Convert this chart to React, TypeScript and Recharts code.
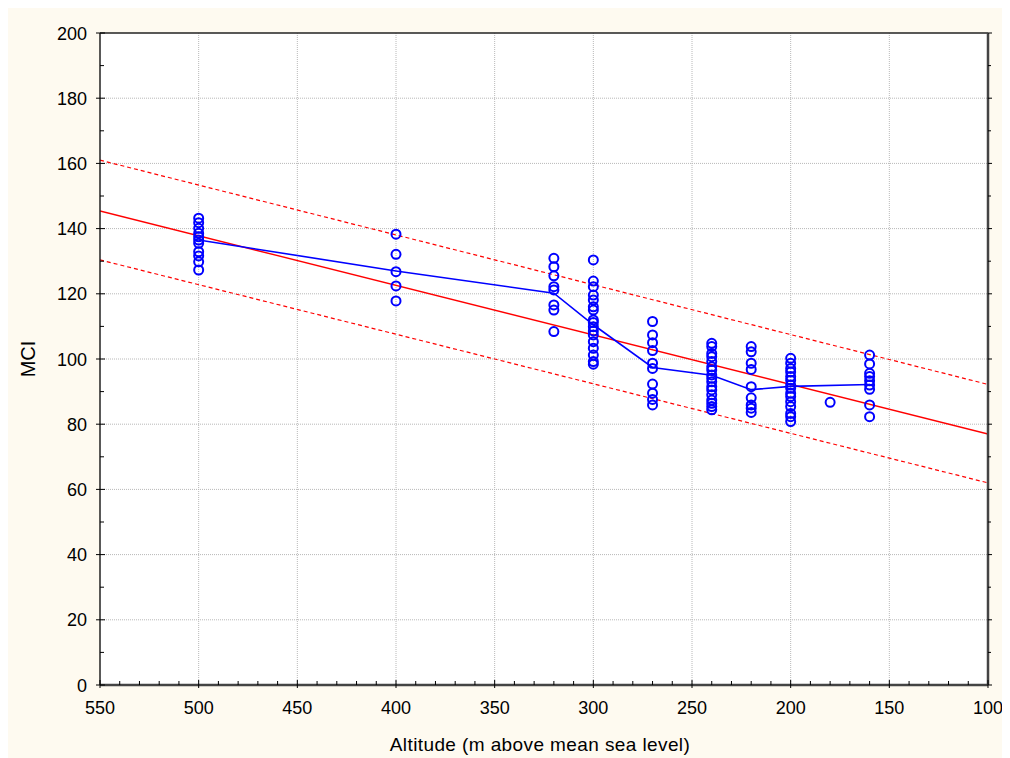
import { CartesianGrid, ComposedChart, Line, Scatter, XAxis, YAxis } from "recharts";

// axis ticks
const altitudeLabels = [550, 500, 450, 400, 350, 300, 250, 200, 150, 100];
const mciLabels = [0, 20, 40, 60, 80, 100, 120, 140, 160, 180, 200];
const altitudeTicks: number[] = [];
for (let v = 100; v <= 550; v += 10) altitudeTicks.push(v);
const mciTicks: number[] = [];
for (let v = 0; v <= 200; v += 10) mciTicks.push(v);

// sampling sites and their MCI scores
const altitudes = [500, 400, 320, 300, 270, 240, 220, 200, 180, 160];
const mciScores: number[][] = [
  [143.2, 141.8, 140.1, 138.6, 137.5, 136.5, 135.5, 132.9, 131.6, 129.8, 127.3],
  [138.3, 132.1, 126.8, 122.4, 117.8],
  [130.9, 128.3, 125.5, 122.2, 121.2, 116.6, 115, 108.4],
  [130.4, 123.9, 122.2, 119.6, 118.1, 116, 115, 112, 111.2, 109.9, 108.6, 107.4, 105.3, 103.3, 101.2, 99.2, 98.4],
  [111.5, 107.4, 105, 102.6, 98.7, 97.1, 92.3, 89.5, 87.6, 85.9],
  [104.8, 103.8, 101.7, 100.7, 99.2, 97.6, 96.6, 95.1, 94.1, 93, 91.5, 90.5, 89, 87.4, 86.4, 85.4, 84.4],
  [103.8, 102.2, 98.7, 96.8, 91.5, 88.1, 85.9, 84.9, 83.6],
  [100.2, 98.7, 97.1, 96, 94.6, 93.5, 92, 91, 89.5, 88.5, 86.9, 85.4, 83.3, 82.3, 80.8],
  [86.7],
  [101.2, 98.5, 95.6, 94.6, 93.3, 92, 90.7, 85.9, 82.3],
];

// mean per altitude
const meanAltitudes = [500, 400, 320, 300, 270, 240, 220, 200, 160];
const meanMci = [136.5, 127, 120.2, 110.5, 97.4, 95, 90.6, 91.6, 92.2];

// regression fit and 95% band
const fitAltitudes = [550, 100];
const fitMci = [145.4, 77];
const upperMci = [161, 92.2];
const lowerMci = [130.4, 62];

const points = altitudes.flatMap((alt, i) => mciScores[i].map((mci) => ({ alt, mci })));
const means = meanAltitudes.map((alt, i) => ({ alt, mci: meanMci[i] }));
const fit = fitAltitudes.map((alt, i) => ({ alt, mci: fitMci[i] }));
const upper = fitAltitudes.map((alt, i) => ({ alt, mci: upperMci[i] }));
const lower = fitAltitudes.map((alt, i) => ({ alt, mci: lowerMci[i] }));

const font = '"Liberation Sans", Arial, sans-serif';
const axisLine = { stroke: "#222", strokeWidth: 1.5 };
const heavyLine = { stroke: "#444", strokeWidth: 2.5 };

function BottomTick({ x, y, payload }: any) {
  const major = payload.value % 50 === 0;
  return (
    <g>
      <line x1={x} x2={x} y1={y - (major ? 5 : 4)} y2={y + (major ? 3 : 0)} stroke="#000" />
      {major && (
        <text x={x} y={y + 29} textAnchor="middle" fontSize={18} fill="#000" fontFamily={font}>
          {payload.value}
        </text>
      )}
    </g>
  );
}

function TopTick({ x, y, payload }: any) {
  const major = payload.value % 50 === 0;
  return <line x1={x} x2={x} y1={y + (major ? 5 : 4)} y2={y - (major ? 3 : 0)} stroke="#000" />;
}

function LeftTick({ x, y, payload }: any) {
  const major = payload.value % 20 === 0;
  return (
    <g>
      <line x1={x - (major ? 4 : 0)} x2={x + (major ? 5 : 4)} y1={y} y2={y} stroke="#000" />
      {major && (
        <text x={x - 13} y={y + 6.5} textAnchor="end" fontSize={18} fill="#000" fontFamily={font}>
          {payload.value}
        </text>
      )}
    </g>
  );
}

function RightTick({ x, y, payload }: any) {
  const major = payload.value % 20 === 0;
  return <line x1={x} x2={x + (major ? 4 : 3)} y1={y} y2={y} stroke="#000" />;
}

const Circle = (p: any) => (
  <circle cx={p.cx} cy={p.cy} r={4.5} fill="none" stroke="#0000ff" strokeWidth={2} />
);

export default function App() {
  return (
    <div style={{ width: 1002, height: 750, background: "#fefaf0", fontFamily: font }}>
      <ComposedChart width={1002} height={750} margin={{ top: 0, right: 0, bottom: 0, left: 0 }}>
        <CartesianGrid
          fill="#fff"
          stroke="#b8b8b8"
          strokeDasharray="1 1"
          verticalValues={altitudeLabels.slice(1, -1)}
          horizontalValues={mciLabels.slice(1, -1)}
        />
        <XAxis
          xAxisId={0}
          dataKey="alt"
          type="number"
          domain={[100, 550]}
          reversed
          allowDataOverflow
          ticks={altitudeTicks}
          interval={0}
          tickSize={0}
          tickMargin={0}
          tickLine={false}
          axisLine={heavyLine}
          tick={<BottomTick />}
          height={73}
          label={({ viewBox }: any) => (
            <text
              x={viewBox.x + viewBox.width / 2 - 4}
              y={viewBox.y + 66}
              textAnchor="middle"
              fontSize={19}
              letterSpacing={0.4}
              fill="#000"
              fontFamily={font}
            >
              Altitude (m above mean sea level)
            </text>
          )}
        />
        <XAxis
          xAxisId="top"
          orientation="top"
          type="number"
          domain={[100, 550]}
          reversed
          allowDataOverflow
          ticks={altitudeTicks}
          interval={0}
          tickSize={0}
          tickMargin={0}
          tickLine={false}
          axisLine={axisLine}
          tick={<TopTick />}
          height={25}
        />
        <YAxis
          yAxisId={0}
          dataKey="mci"
          type="number"
          domain={[0, 200]}
          allowDataOverflow
          ticks={mciTicks}
          interval={0}
          tickSize={0}
          tickMargin={0}
          tickLine={false}
          axisLine={axisLine}
          tick={<LeftTick />}
          width={92}
          label={({ viewBox }: any) => {
            const cx = 20;
            const cy = viewBox.y + viewBox.height / 2;
            return (
              <text
                x={cx}
                y={cy}
                transform={`rotate(-90, ${cx}, ${cy})`}
                textAnchor="middle"
                dominantBaseline="central"
                fontSize={20}
                fill="#000"
                fontFamily={font}
              >
                MCI
              </text>
            );
          }}
        />
        <YAxis
          yAxisId="right"
          orientation="right"
          type="number"
          domain={[0, 200]}
          allowDataOverflow
          ticks={mciTicks}
          interval={0}
          tickSize={0}
          tickMargin={0}
          tickLine={false}
          axisLine={heavyLine}
          tick={<RightTick />}
          width={22}
        />
        <Scatter data={points} dataKey="mci" shape={Circle} isAnimationActive={false} />
        <Line data={upper} dataKey="mci" stroke="#ff0000" strokeWidth={1.2} strokeDasharray="4 3" dot={false} isAnimationActive={false} />
        <Line data={lower} dataKey="mci" stroke="#ff0000" strokeWidth={1.2} strokeDasharray="4 3" dot={false} isAnimationActive={false} />
        <Line data={fit} dataKey="mci" stroke="#ff0000" strokeWidth={1.4} dot={false} isAnimationActive={false} />
        <Line data={means} dataKey="mci" stroke="#0000ff" strokeWidth={1.6} dot={false} isAnimationActive={false} />
      </ComposedChart>
    </div>
  );
}
